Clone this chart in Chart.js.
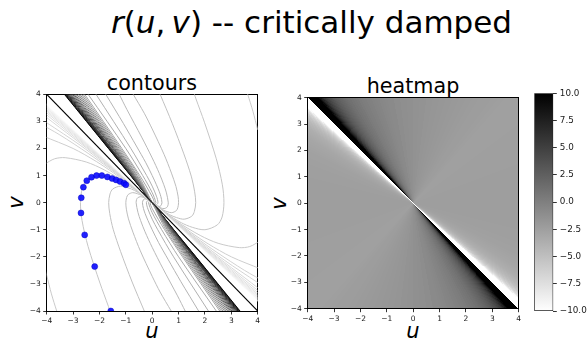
<!DOCTYPE html>
<html><head><meta charset="utf-8">
<script src="https://cdn.jsdelivr.net/npm/chart.js@4.4.1/dist/chart.umd.min.js"></script>
<style>
html,body{margin:0;padding:0;background:#fff;}
body{width:587px;height:341px;position:relative;overflow:hidden;font-family:"DejaVu Sans",sans-serif;}
canvas{position:absolute;top:0;}
.t{position:absolute;white-space:nowrap;color:#000;text-align:center;}
</style></head><body>
<div class="t" style="left:111px;width:400px;top:7px;font-size:31px;line-height:31px;"><i>r</i>(<i>u</i>,&#8201;<i>v</i>) -- critically damped</div>
<div class="t" style="left:102px;width:100px;top:72.5px;font-size:20.7px;line-height:20.7px;">contours</div>
<div class="t" style="left:363px;width:100px;top:76px;font-size:20.7px;line-height:20.7px;">heatmap</div>
<div class="t" style="left:132px;width:40px;top:321px;font-size:21px;line-height:21px;font-style:italic;">u</div>
<div class="t" style="left:393px;width:40px;top:321px;font-size:21px;line-height:21px;font-style:italic;">u</div>
<div class="t" style="left:-4.3px;width:40px;top:192.2px;font-size:21px;line-height:21px;font-style:italic;transform:rotate(-90deg);">v</div>
<div class="t" style="left:258.7px;width:40px;top:192.7px;font-size:21px;line-height:21px;font-style:italic;transform:rotate(-90deg);">v</div>
<canvas id="cA" width="270" height="341" style="left:0px"></canvas>
<canvas id="cB" width="258" height="341" style="left:270px"></canvas>
<canvas id="cC" width="59" height="341" style="left:528px"></canvas>
<script>
// ================= DATA =================
const axisRange = [-4, 4];
const tickValues = [-4, -3, -2, -1, 0, 1, 2, 3, 4];
const colorbarRange = [-10, 10];
const colorbarTicks = [-10, -7.5, -5, -2.5, 0, 2.5, 5, 7.5, 10];

// blue trajectory markers
const trajU = [-1.57, -2.18, -2.56, -2.70, -2.69, -2.61, -2.48, -2.30, -2.11, -1.91, -1.70, -1.52, -1.37, -1.22, -1.07, -1.00];
const trajV = [-4.00, -2.36, -1.19, -0.38, 0.18, 0.57, 0.81, 0.94, 1.00, 1.00, 0.95, 0.89, 0.84, 0.78, 0.72, 0.66];

// black separatrix line
const diagU = [-4, 4];
const diagV = [4, -4];

// dense dark fan of contours (levels -10 .. -2), u read at v = 4, 2, 1, 0, -1, -2, -4
const fanLevels = [-10, -9.5, -9, -8.5, -8, -7.5, -7, -6.5, -6, -5.5, -5, -4.5, -4, -3.5, -3, -2.5, -2];
const fanReadV = [4, 2, 1, 0, -1, -2, -4];
const fanTopU    = [-3.33, -3.31, -3.28, -3.25, -3.22, -3.19, -3.15, -3.11, -3.07, -3.02, -2.97, -2.92, -2.86, -2.80, -2.74, -2.68, -2.62];
const fanUpperU2 = [-1.66, -1.65, -1.63, -1.61, -1.59, -1.57, -1.56, -1.54, -1.50, -1.48, -1.45, -1.42, -1.38, -1.34, -1.30, -1.25, -1.20];
const fanUpperU1 = [-0.82, -0.81, -0.80, -0.80, -0.79, -0.78, -0.77, -0.76, -0.73, -0.72, -0.70, -0.69, -0.66, -0.64, -0.60, -0.57, -0.52];
const fanCenterU = [0, 0, 0, 0, 0, 0, 0, 0, 0, 0, 0, 0, 0, 0, 0, 0, 0];
const fanLowerU1 = [0.82, 0.81, 0.80, 0.80, 0.79, 0.78, 0.77, 0.76, 0.73, 0.72, 0.70, 0.69, 0.66, 0.64, 0.60, 0.57, 0.52];
const fanLowerU2 = [1.66, 1.65, 1.63, 1.61, 1.59, 1.57, 1.56, 1.54, 1.50, 1.48, 1.45, 1.42, 1.38, 1.34, 1.30, 1.25, 1.20];
const fanBottomU = [3.33, 3.31, 3.28, 3.25, 3.22, 3.19, 3.15, 3.11, 3.07, 3.02, 2.97, 2.92, 2.86, 2.80, 2.74, 2.68, 2.62];

// faint near-straight contours (levels 4.5 .. 10), v read at u = 4, 2, 0, -2, -4
const rayLevels = [4.5, 5, 5.5, 6, 6.5, 7, 7.5, 8, 8.5, 9, 9.5, 10];
const rayReadU = [4, 2, 0, -2, -4];
const rayRightV    = [-3.14, -3.24, -3.32, -3.38, -3.43, -3.48, -3.51, -3.55, -3.57, -3.60, -3.62, -3.64];
const rayRightMidV = [-1.64, -1.67, -1.70, -1.73, -1.75, -1.76, -1.78, -1.79, -1.80, -1.81, -1.82, -1.83];
const rayCenterV   = [0, 0, 0, 0, 0, 0, 0, 0, 0, 0, 0, 0];
const rayLeftMidV  = [1.64, 1.67, 1.70, 1.73, 1.75, 1.76, 1.78, 1.79, 1.80, 1.81, 1.82, 1.83];
const rayLeftV     = [3.14, 3.24, 3.32, 3.38, 3.43, 3.48, 3.51, 3.55, 3.57, 3.60, 3.62, 3.64];

// curved contours (levels -1.5 .. 4), points [u, v]
const curveLevels = [-1.5, -1, -0.5, 0, 0.5, 1, 1.5, 2, 2.5, 2.5, 2.5, 3, 3.5, 4];
const curvePaths = [
  [[-2.56,4],[-1.15,2],[-0.47,1],[0,0.22],[0.08,0],[0,0],[-0.08,0],[0,-0.22],[0.47,-1],[1.15,-2],[2.56,-4]],
  [[-2.43,4],[-1.0,2],[-0.36,1],[0,0.37],[0.14,0],[0.1,-0.05],[0,0],[-0.1,0.05],[-0.14,0],[0,-0.37],[0.36,-1],[1.0,-2],[2.43,-4]],
  [[-2.13,4],[-0.81,2],[-0.21,1],[0,0.61],[0.16,0.24],[0.22,0],[0.16,-0.08],[0.09,-0.06],[0,0],[-0.09,0.06],[-0.16,0.08],[-0.22,0],[-0.16,-0.24],[0,-0.61],[0.21,-1],[0.81,-2],[2.13,-4]],
  [[-1.76,4],[-1.09,2.92],[-0.6,2.09],[-0.24,1.47],[0,1],[0.16,0.66],[0.27,0.4],[0.33,0.22],[0.37,0],[0.33,-0.11],[0.27,-0.14],[0.15,-0.1],[0.07,-0.06],[0,0],[-0.07,0.06],[-0.15,0.1],[-0.27,0.14],[-0.33,0.11],[-0.37,0],[-0.33,-0.22],[-0.27,-0.4],[-0.16,-0.66],[0,-1],[0.24,-1.47],[0.6,-2.09],[1.09,-2.92],[1.76,-4]],
  [[-1.25,4],[-0.96,3.44],[-0.4,2.42],[0,1.65],[0.27,1.08],[0.44,0.66],[0.54,0.36],[0.61,0],[0.59,-0.12],[0.55,-0.18],[0.45,-0.22],[0.34,-0.2],[0.25,-0.16],[0.12,-0.09],[0,0],[-0.12,0.09],[-0.25,0.16],[-0.34,0.2],[-0.45,0.22],[-0.55,0.18],[-0.59,0.12],[-0.61,0],[-0.54,-0.36],[-0.44,-0.66],[-0.27,-1.08],[0,-1.65],[0.4,-2.42],[0.96,-3.44],[1.25,-4]],
  [[-0.72,4],[-0.3,3.3],[0,2.72],[0.45,1.78],[0.73,1.09],[0.9,0.6],[0.98,0.24],[1.0,0],[0.97,-0.19],[0.91,-0.3],[0.74,-0.37],[0.56,-0.33],[0.41,-0.27],[0.2,-0.15],[0.09,-0.07],[0,0],[-0.09,0.07],[-0.2,0.15],[-0.41,0.27],[-0.56,0.33],[-0.74,0.37],[-0.91,0.3],[-0.97,0.19],[-1.0,0],[-0.98,-0.24],[-0.9,-0.6],[-0.73,-1.09],[-0.45,-1.78],[0,-2.72],[0.3,-3.3],[0.72,-4]],
  [[0.3,4],[0.76,2.93],[1.2,1.8],[1.48,0.98],[1.61,0.4],[1.65,0],[1.6,-0.32],[1.5,-0.5],[1.21,-0.61],[0.92,-0.55],[0.67,-0.45],[0.33,-0.25],[0.15,-0.12],[0.07,-0.06],[0,0],[-0.07,0.06],[-0.15,0.12],[-0.33,0.25],[-0.67,0.45],[-0.92,0.55],[-1.21,0.61],[-1.5,0.5],[-1.6,0.32],[-1.65,0],[-1.61,-0.4],[-1.48,-0.98],[-1.2,-1.8],[-0.76,-2.93],[-0.3,-4]],
  [[1.6,4],[1.66,3.83],[1.98,2.97],[2.43,1.62],[2.66,0.66],[2.72,0],[2.65,-0.53],[2.47,-0.82],[2.0,-1.0],[1.52,-0.91],[1.1,-0.74],[0.54,-0.41],[0.25,-0.2],[0.11,-0.09],[0,0],[-0.11,0.09],[-0.25,0.2],[-0.54,0.41],[-1.1,0.74],[-1.52,0.91],[-2.0,1.0],[-2.47,0.82],[-2.65,0.53],[-2.72,0],[-2.66,-0.66],[-2.43,-1.62],[-1.98,-2.97],[-1.66,-3.83],[-1.6,-4]],
  [[3.52,4.27],[3.62,4],[3.82,3.37],[4.0,2.69],[4.13,2.23]],
  [[-3.52,-4.27],[-3.62,-4],[-3.82,-3.37],[-4.0,-2.69],[-4.13,-2.23]],
  [[4.08,-1.42],[3.7,-1.62],[3.3,-1.66],[2.5,-1.5],[1.82,-1.21],[0.89,-0.67],[0.41,-0.33],[0.18,-0.15],[0,0],[-0.18,0.15],[-0.41,0.33],[-0.89,0.67],[-1.82,1.21],[-2.5,1.5],[-3.3,1.66],[-3.7,1.62],[-4.08,1.42]],
  [[4.12,-2.45],[3.0,-2.0],[2.12,-1.52],[1.47,-1.1],[0.68,-0.54],[0.3,-0.25],[0,0],[-0.3,0.25],[-0.68,0.54],[-1.47,1.1],[-2.12,1.52],[-3.0,2.0],[-4.12,2.45]],
  [[4.32,-2.95],[3.5,-2.5],[2.43,-1.82],[1.66,-1.29],[1.12,-0.89],[0.49,-0.41],[0,0],[-0.49,0.41],[-1.12,0.89],[-1.66,1.29],[-2.43,1.82],[-3.5,2.5],[-4.32,2.95]],
  [[4.64,-3.35],[4.0,-2.95],[2.73,-2.12],[1.84,-1.47],[0.81,-0.68],[0.35,-0.3],[0,0],[-0.35,0.3],[-0.81,0.68],[-1.84,1.47],[-2.73,2.12],[-4.0,2.95],[-4.64,3.35]]
];

// heatmap: value of each angular cell, read along the frame (cells run from the centre out to the frame)
const heatCenter = [0, 0];
const heatFrame = [-4, 4];
const heatTopEdgeU = [-4, -3.7, -3.65, -3.6, -3.55, -3.5, -3.45, -3.4, -3.35, -3.3, -3.25, -3.2, -3.15, -3.1, -3.05, -3.0, -2.95, -2.9, -2.85, -2.8, -2.75, -2.7, -2.65, -2.6, -2.55,
  -2.5, -2.4, -2.3, -2.2, -2.1, -2.0, -1.9, -1.8, -1.7, -1.6, -1.5, -1.4, -1.3, -1.2, -1.1, -1.0,
  -0.75, -0.5, -0.25, 0, 0.25, 0.5, 0.75, 1, 1.25, 1.5, 1.75, 2, 2.25, 2.5, 2.75, 3, 3.25, 3.5, 3.75, 4];
const heatTopShade = [10,
  10, 10, 9.27, 8.17, 7.26, 6.51, 5.87, 5.32, 4.84, 4.42, 4.04, 3.71, 3.40, 3.13, 2.88, 2.65, 2.44, 2.24, 2.06, 1.89, 1.74, 1.59, 1.45, 1.32,
  1.14, 0.92, 0.73, 0.55, 0.38, 0.23, 0.10, -0.03, -0.15, -0.26, -0.37, -0.47, -0.56, -0.64, -0.73,
  -0.86, -1.03, -1.18, -1.32, -1.45, -1.56, -1.67, -1.76, -1.85, -1.94, -2.02, -2.09, -2.16, -2.23, -2.29, -2.35, -2.40, -2.46, -2.51, -2.56];
const heatBottomEdgeU = [4, 3.7, 3.65, 3.6, 3.55, 3.5, 3.45, 3.4, 3.35, 3.3, 3.25, 3.2, 3.15, 3.1, 3.05, 3.0, 2.95, 2.9, 2.85, 2.8, 2.75, 2.7, 2.65, 2.6, 2.55,
  2.5, 2.4, 2.3, 2.2, 2.1, 2.0, 1.9, 1.8, 1.7, 1.6, 1.5, 1.4, 1.3, 1.2, 1.1, 1.0,
  0.75, 0.5, 0.25, 0, -0.25, -0.5, -0.75, -1, -1.25, -1.5, -1.75, -2, -2.25, -2.5, -2.75, -3, -3.25, -3.5, -3.75, -4];
const heatBottomShade = [10,
  10, 10, 9.27, 8.17, 7.26, 6.51, 5.87, 5.32, 4.84, 4.42, 4.04, 3.71, 3.40, 3.13, 2.88, 2.65, 2.44, 2.24, 2.06, 1.89, 1.74, 1.59, 1.45, 1.32,
  1.14, 0.92, 0.73, 0.55, 0.38, 0.23, 0.10, -0.03, -0.15, -0.26, -0.37, -0.47, -0.56, -0.64, -0.73,
  -0.86, -1.03, -1.18, -1.32, -1.45, -1.56, -1.67, -1.76, -1.85, -1.94, -2.02, -2.09, -2.16, -2.23, -2.29, -2.35, -2.40, -2.46, -2.51, -2.56];
const heatRightEdgeV = [4, 3.5, 3, 2.5, 2, 1.5, 1, 0.5, 0, -0.5, -1, -1.25, -1.5, -1.75, -2, -2.1, -2.2, -2.3, -2.4, -2.5,
  -2.55, -2.6, -2.65, -2.7, -2.75, -2.8, -2.85, -2.9, -2.95, -3.0, -3.05, -3.1, -3.15, -3.2, -3.25, -3.3, -3.35, -3.4, -3.45, -3.5, -3.55, -3.6, -3.65, -4];
const heatRightShade = [-2.56, -2.53, -2.50, -2.47, -2.44, -2.42, -2.40, -2.39, -2.39, -2.41,
  -2.45, -2.49, -2.55, -2.64, -2.72, -2.78, -2.85, -2.93, -3.02,
  -3.10, -3.16, -3.23, -3.30, -3.38, -3.47, -3.57, -3.67, -3.79, -3.93, -4.08, -4.25, -4.44, -4.66, -4.91, -5.20, -5.53, -5.93, -6.40, -6.98, -7.68, -8.56, -9.69,
  -10];
const heatLeftEdgeV = [-4, -3.5, -3, -2.5, -2, -1.5, -1, -0.5, 0, 0.5, 1, 1.25, 1.5, 1.75, 2, 2.1, 2.2, 2.3, 2.4, 2.5,
  2.55, 2.6, 2.65, 2.7, 2.75, 2.8, 2.85, 2.9, 2.95, 3.0, 3.05, 3.1, 3.15, 3.2, 3.25, 3.3, 3.35, 3.4, 3.45, 3.5, 3.55, 3.6, 3.65, 4];
const heatLeftShade = [-2.56, -2.53, -2.50, -2.47, -2.44, -2.42, -2.40, -2.39, -2.39, -2.41,
  -2.45, -2.49, -2.55, -2.64, -2.72, -2.78, -2.85, -2.93, -3.02,
  -3.10, -3.16, -3.23, -3.30, -3.38, -3.47, -3.57, -3.67, -3.79, -3.93, -4.08, -4.25, -4.44, -4.66, -4.91, -5.20, -5.53, -5.93, -6.40, -6.98, -7.68, -8.56, -9.69,
  -10];

// ================= STYLE HELPERS =================
Chart.defaults.font.family = "'DejaVu Sans', sans-serif";
const minus = '\u2212';
const fmtTick = v => (v < 0 ? minus : '') + Math.abs(v);
const fmtBar = v => (v < 0 ? minus : '') + Math.abs(v).toFixed(1);
function grayOf(t) { const g = Math.round(255 * Math.max(0, Math.min(1, t))); return 'rgb(' + g + ',' + g + ',' + g + ')'; }
function contourColor(lvl) {
  const L = (lvl - colorbarRange[0]) / (colorbarRange[1] - colorbarRange[0]);
  return grayOf(L < 0.4 ? 1.58 * L : Math.sqrt(L));
}
const heatColor = val => grayOf((colorbarRange[1] - val) / (colorbarRange[1] - colorbarRange[0]));  // gray_r

function tickAxis(position, size) {
  const vertical = position === 'left' || position === 'right';
  return {
    type: 'linear', position, min: axisRange[0], max: axisRange[1], z: 2,
    afterFit(s) { if (vertical) s.width = size; else s.height = size; },
    afterBuildTicks(s) { s.ticks = tickValues.map(v => ({ value: v })); },
    ticks: { autoSkip: false, maxRotation: 0, minRotation: 0, padding: 2.5, color: '#1a1a1a', font: { size: 7.5 }, callback: fmtTick },
    grid: { display: true, drawOnChartArea: false, drawTicks: true, tickLength: 3.5, tickWidth: 0.8, tickColor: '#000' },
    border: { display: true, color: '#000', width: 1 }
  };
}
function frameAxis(position) {
  const vertical = position === 'left' || position === 'right';
  return {
    type: 'linear', position, min: axisRange[0], max: axisRange[1], z: 2,
    afterFit(s) { if (vertical) s.width = 0; else s.height = 0; },
    ticks: { display: false },
    grid: { display: false, drawOnChartArea: false, drawTicks: false },
    border: { display: true, color: '#000', width: 1 }
  };
}
const pts = (us, vs) => us.map((u, i) => ({ x: u, y: vs[i] }));

// ================= CONTOURS =================
const datasets = [];
datasets.push({ data: pts(trajU, trajV), showLine: false, pointRadius: 3, pointBackgroundColor: 'rgba(10,10,255,0.9)', pointBorderColor: 'rgba(0,0,190,0.9)', pointBorderWidth: 0.5, clip: 0 });
datasets.push({ data: pts(diagU, diagV), showLine: true, borderColor: '#000', borderWidth: 1.1, pointRadius: 0, clip: 0 });
const contourSets = [];
fanLevels.forEach((lvl, i) => {
  const us = [fanTopU[i], fanUpperU2[i], fanUpperU1[i], fanCenterU[i], fanLowerU1[i], fanLowerU2[i], fanBottomU[i]];
  contourSets.push({ lvl, data: pts(us, fanReadV) });
});
rayLevels.forEach((lvl, i) => {
  const vs = [rayRightV[i], rayRightMidV[i], rayCenterV[i], rayLeftMidV[i], rayLeftV[i]];
  contourSets.push({ lvl, data: pts(rayReadU, vs) });
});
curveLevels.forEach((lvl, i) => {
  contourSets.push({ lvl, data: curvePaths[i].map(p => ({ x: p[0], y: p[1] })) });
});
contourSets.sort((a, b) => b.lvl - a.lvl);
contourSets.forEach(c => datasets.push({ data: c.data, showLine: true, borderColor: contourColor(c.lvl), borderWidth: 1, pointRadius: 0, tension: 0.3, clip: 0 }));

new Chart(document.getElementById('cA'), {
  type: 'scatter',
  data: { datasets },
  options: {
    responsive: false, animation: false, devicePixelRatio: 1,
    layout: { padding: { left: 0, top: 94.3, right: 12.3, bottom: 0 } },
    plugins: { legend: { display: false }, tooltip: { enabled: false }, title: { display: false } },
    events: [],
    scales: { x: tickAxis('bottom', 30), y: tickAxis('left', 46.7), xTop: frameAxis('top'), yRight: frameAxis('right') }
  }
});

// ================= HEATMAP =================
// every angular cell is one hard-edged band of a conic gradient centred on the heatmap centre
const fanHeat = {
  id: 'fanHeat',
  beforeDraw(chart) {
    const { ctx, chartArea: a, scales: { x, y } } = chart;
    const ox = x.getPixelForValue(heatCenter[0]), oy = y.getPixelForValue(heatCenter[1]);
    const lo = heatFrame[0], hi = heatFrame[1];
    const cells = [];
    const turn = (u, v) => {
      let t = Math.atan2(y.getPixelForValue(v) - oy, x.getPixelForValue(u) - ox) / (2 * Math.PI);
      if (t < 0) t += 1;
      return t;
    };
    const addCell = (u1, v1, u2, v2, val) => {
      let t1 = turn(u1, v1), t2 = turn(u2, v2);
      if (t2 < t1) { const s = t1; t1 = t2; t2 = s; }
      if (t2 - t1 > 0.5) { cells.push({ t1: 0, t2: t1, val }); cells.push({ t1: t2, t2: 1, val }); }
      else cells.push({ t1, t2, val });
    };
    heatTopShade.forEach((v, i) => addCell(heatTopEdgeU[i], hi, heatTopEdgeU[i + 1], hi, v));
    heatRightShade.forEach((v, i) => addCell(hi, heatRightEdgeV[i], hi, heatRightEdgeV[i + 1], v));
    heatBottomShade.forEach((v, i) => addCell(heatBottomEdgeU[i], lo, heatBottomEdgeU[i + 1], lo, v));
    heatLeftShade.forEach((v, i) => addCell(lo, heatLeftEdgeV[i], lo, heatLeftEdgeV[i + 1], v));
    cells.sort((p, q) => p.t1 - q.t1);
    ctx.save();
    ctx.beginPath(); ctx.rect(a.left, a.top, a.right - a.left, a.bottom - a.top); ctx.clip();
    if (ctx.createConicGradient) {
      const g = ctx.createConicGradient(0, ox, oy);
      cells.forEach(c => { const col = heatColor(c.val); g.addColorStop(c.t1, col); g.addColorStop(c.t2, col); });
      ctx.fillStyle = g;
      ctx.fillRect(a.left, a.top, a.right - a.left, a.bottom - a.top);
    } else {
      const R = 4 * Math.max(a.right - a.left, a.bottom - a.top);
      cells.forEach(c => {
        ctx.beginPath(); ctx.moveTo(ox, oy);
        ctx.arc(ox, oy, R, c.t1 * 2 * Math.PI, c.t2 * 2 * Math.PI);
        ctx.closePath(); ctx.fillStyle = heatColor(c.val); ctx.fill();
      });
    }
    ctx.restore();
  }
};
new Chart(document.getElementById('cB'), {
  type: 'scatter',
  data: { datasets: [] },
  options: {
    responsive: false, animation: false, devicePixelRatio: 1,
    layout: { padding: { left: 0, top: 97.7, right: 9.3, bottom: 0 } },
    plugins: { legend: { display: false }, tooltip: { enabled: false } },
    events: [],
    scales: { x: tickAxis('bottom', 32.3), y: tickAxis('left', 37.7), xTop: frameAxis('top'), yRight: frameAxis('right') }
  },
  plugins: [fanHeat]
});

// ================= COLORBAR =================
new Chart(document.getElementById('cC'), {
  type: 'bar',
  data: {
    labels: [''],
    datasets: [{
      data: [colorbarRange],
      backgroundColor(c) {
        const ch = c.chart; const ys = ch.scales && ch.scales.y;
        if (!ys) return '#888';
        const top = ys.getPixelForValue(colorbarRange[1]), bot = ys.getPixelForValue(colorbarRange[0]);
        if (!isFinite(top) || !isFinite(bot) || top === bot) return '#888';
        const g = ch.ctx.createLinearGradient(0, top, 0, bot);
        g.addColorStop(0, heatColor(colorbarRange[1]));
        g.addColorStop(1, heatColor(colorbarRange[0]));
        return g;
      },
      borderColor: '#222', borderWidth: 1, borderSkipped: false,
      barPercentage: 1, categoryPercentage: 1
    }]
  },
  options: {
    responsive: false, animation: false, devicePixelRatio: 1,
    layout: { padding: { left: 6.3, top: 93.3, right: 0, bottom: 30 } },
    plugins: { legend: { display: false }, tooltip: { enabled: false } },
    events: [],
    scales: {
      x: { display: false },
      y: {
        type: 'linear', position: 'right', min: colorbarRange[0], max: colorbarRange[1], z: 2,
        afterFit(s) { s.width = 33.7; },
        afterBuildTicks(s) { s.ticks = colorbarTicks.map(v => ({ value: v })); },
        ticks: { autoSkip: false, padding: 3, color: '#1a1a1a', font: { size: 8.8 }, callback: fmtBar },
        grid: { display: true, drawOnChartArea: false, drawTicks: true, tickLength: 3.5, tickWidth: 0.8, tickColor: '#000' },
        border: { display: false }
      }
    }
  }
});
</script>
</body></html>
